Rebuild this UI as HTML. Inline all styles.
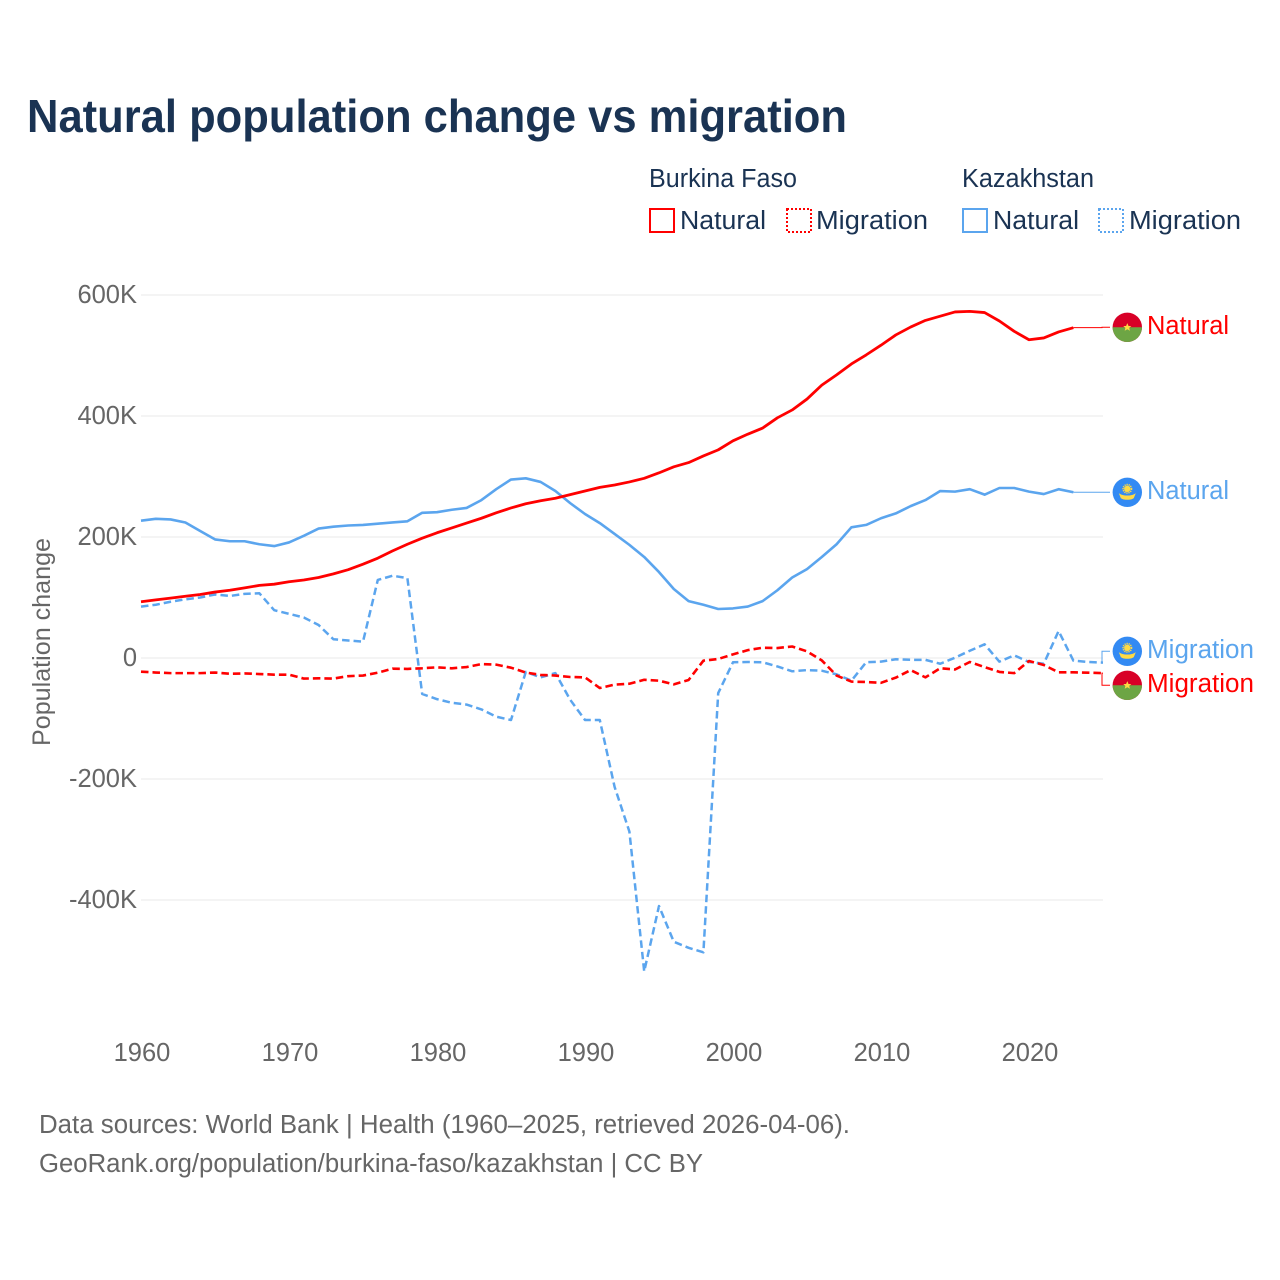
<!DOCTYPE html>
<html lang="en">
<head>
<meta charset="utf-8">
<title>Natural population change vs migration</title>
<style>
html,body{margin:0;padding:0;background:#fff;}
svg{display:block;font-family:"Liberation Sans",sans-serif;}
</style>
</head>
<body>
<svg id="chart" width="1280" height="1280" viewBox="0 0 1280 1280" xmlns="http://www.w3.org/2000/svg">
  <rect width="1280" height="1280" fill="#ffffff"/>
  <text x="27" y="132" font-size="46" font-weight="700" fill="#1a3353" textLength="820" lengthAdjust="spacingAndGlyphs">Natural population change vs migration</text>

  <g font-size="25.5" fill="#1a3353">
    <text x="649" y="187" textLength="148" lengthAdjust="spacingAndGlyphs">Burkina Faso</text>
    <text x="962" y="187" textLength="132" lengthAdjust="spacingAndGlyphs">Kazakhstan</text>
    <rect x="650" y="209" width="24" height="23" fill="none" stroke="#ff0000" stroke-width="2"/>
    <text x="680" y="229" textLength="86" lengthAdjust="spacingAndGlyphs">Natural</text>
    <rect x="787" y="209" width="24" height="23" fill="none" stroke="#ff0000" stroke-width="2" stroke-dasharray="2 2"/>
    <text x="816" y="229" textLength="112" lengthAdjust="spacingAndGlyphs">Migration</text>
    <rect x="963" y="209" width="24" height="23" fill="none" stroke="#5ba5ee" stroke-width="2"/>
    <text x="993" y="229" textLength="86" lengthAdjust="spacingAndGlyphs">Natural</text>
    <rect x="1099" y="209" width="24" height="23" fill="none" stroke="#5ba5ee" stroke-width="2" stroke-dasharray="2 2"/>
    <text x="1129" y="229" textLength="112" lengthAdjust="spacingAndGlyphs">Migration</text>
  </g>

  <g id="grid"></g>
  <g id="yticks" font-size="25.5" fill="#666666" text-anchor="end"></g>
  <g id="xticks" font-size="25.5" fill="#666666" text-anchor="middle"></g>
  <text transform="translate(50,642) rotate(-90)" font-size="25" fill="#666666" text-anchor="middle" textLength="208" lengthAdjust="spacingAndGlyphs">Population change</text>
  <g id="series"></g>

  <g transform="translate(1127.3,327.3)">
    <circle r="14.7" fill="#d80027"/>
    <path d="M-14.7 0A14.7 14.7 0 0 0 14.7 0Z" fill="#6da544"/>
    <polygon points="0,-4.2 1.2,-1.3 4,-1.3 1.9,0.6 2.6,3.4 0,1.9 -2.6,3.4 -1.9,0.6 -4,-1.3 -1.2,-1.3" fill="#ffda44"/>
  </g>
  <g transform="translate(1127.3,492.3)">
    <circle r="14.7" fill="#338af3"/>
    <circle cy="-3.5" r="4.2" fill="none" stroke="#ffda44" stroke-width="1.6" stroke-dasharray="1.2 0.9"/>
    <circle cy="-3.5" r="3.2" fill="#ffda44"/>
    <path d="M-8.5 0.8C-6 3-2 3.2 0 3.2C2 3.2 6 3 8.5 0.8L6.5 5.8C4.5 7.4 2 7.4 0 7.4C-2 7.4-4.5 7.4-6.5 5.8Z" fill="#ffda44"/>
  </g>
  <g transform="translate(1127.3,651.3)">
    <circle r="14.7" fill="#338af3"/>
    <circle cy="-3.5" r="4.2" fill="none" stroke="#ffda44" stroke-width="1.6" stroke-dasharray="1.2 0.9"/>
    <circle cy="-3.5" r="3.2" fill="#ffda44"/>
    <path d="M-8.5 0.8C-6 3-2 3.2 0 3.2C2 3.2 6 3 8.5 0.8L6.5 5.8C4.5 7.4 2 7.4 0 7.4C-2 7.4-4.5 7.4-6.5 5.8Z" fill="#ffda44"/>
  </g>
  <g transform="translate(1127.3,685.3)">
    <circle r="14.7" fill="#d80027"/>
    <path d="M-14.7 0A14.7 14.7 0 0 0 14.7 0Z" fill="#6da544"/>
    <polygon points="0,-4.2 1.2,-1.3 4,-1.3 1.9,0.6 2.6,3.4 0,1.9 -2.6,3.4 -1.9,0.6 -4,-1.3 -1.2,-1.3" fill="#ffda44"/>
  </g>

  <g font-size="25.5">
    <text x="1147" y="334" fill="#ff0000" textLength="82" lengthAdjust="spacingAndGlyphs">Natural</text>
    <text x="1147" y="499" fill="#5ba5ee" textLength="82" lengthAdjust="spacingAndGlyphs">Natural</text>
    <text x="1147" y="658" fill="#5ba5ee" textLength="107" lengthAdjust="spacingAndGlyphs">Migration</text>
    <text x="1147" y="692" fill="#ff0000" textLength="107" lengthAdjust="spacingAndGlyphs">Migration</text>
  </g>

  <g font-size="25.5" fill="#666666">
    <text x="39" y="1133" textLength="811" lengthAdjust="spacingAndGlyphs">Data sources: World Bank | Health (1960–2025, retrieved 2026-04-06).</text>
    <text x="39" y="1172" textLength="664" lengthAdjust="spacingAndGlyphs">GeoRank.org/population/burkina-faso/kazakhstan | CC BY</text>
  </g>
</svg>
<script>
var years = [1960,1961,1962,1963,1964,1965,1966,1967,1968,1969,1970,1971,1972,1973,1974,1975,1976,1977,1978,1979,1980,1981,1982,1983,1984,1985,1986,1987,1988,1989,1990,1991,1992,1993,1994,1995,1996,1997,1998,1999,2000,2001,2002,2003,2004,2005,2006,2007,2008,2009,2010,2011,2012,2013,2014,2015,2016,2017,2018,2019,2020,2021,2022,2023,2024,2025];
var burkinaNatural = [93,96,99,102,105,109,112,116,120,122,126,129,133,139,146,155,165,177,188,198,207,215,223,231,240,248,255,260,264,270,276,282,286,291,297,306,316,323,334,344,359,370,380,397,410,428,451,468,486,501,517,534,547,558,565,572,573,571,557,540,526,529,539,546];
var kazakhstanNatural = [227,230,229,224,210,196,193,193,188,185,191,202,214,217,219,220,222,224,226,240,241,245,248,261,279,295,297,291,276,256,238,223,205,187,167,142,114,94,88,81,82,85,94,112,133,147,167,188,216,220,231,239,251,261,276,275,279,270,281,281,275,271,279,274];
var burkinaMigration = [-22.6,-24,-25,-25,-25,-24,-26,-25.5,-26.5,-27.5,-27.5,-34,-33.6,-34,-30,-29,-24.3,-17.6,-18,-17,-15.4,-17,-15,-10,-11,-16,-24,-28,-29,-31.4,-32,-49.6,-44,-42.5,-36,-37.5,-43.5,-36.4,-4.4,-1.6,6,13,17,16.5,19,11,-4,-29,-39,-39.7,-41,-32.5,-20,-32,-17,-19,-6.6,-15,-23,-25,-5,-11.6,-23.7,-23.7,-24.3,-25];
var kazakhstanMigration = [85,88,93,97,100,105,102.5,106,107,79,73,67,54.5,31,29,27,129,136,132,-59.5,-68,-74,-77,-85,-97,-102.5,-23,-32,-25,-69,-102.5,-102.5,-213,-287,-518,-410,-469,-479,-486.5,-58,-7,-6.6,-7,-14,-22,-20,-21,-27,-37.5,-7,-6,-2,-3,-3,-9.5,0.5,12,22.6,-6,4.4,-6.6,-9.4,44.6,-4.4,-6.6,-7.7];
var yTickValues = [600,400,200,0,-200,-400];
var yTickLabels = ['600K','400K','200K','0','-200K','-400K'];
var xTickValues = [1960,1970,1980,1990,2000,2010,2020];

var SVGNS = 'http://www.w3.org/2000/svg';
function xScale(year) { return 141 + (year - 1960) * (1103 - 141) / 65; }
function yScale(value) { return 658 - value * 0.605; }
function make(tag, attrs, parent) {
  var el = document.createElementNS(SVGNS, tag);
  for (var k in attrs) { el.setAttribute(k, attrs[k]); }
  parent.appendChild(el);
  return el;
}
var gridG = document.getElementById('grid');
var yG = document.getElementById('yticks');
var xG = document.getElementById('xticks');
var seriesG = document.getElementById('series');

yTickValues.forEach(function (v, i) {
  var line = make('line', { x1: 141, x2: 1103, y1: yScale(v), y2: yScale(v), stroke: '#e9e9e9', 'stroke-width': 1 }, gridG);
  
  
  var t = make('text', { x: 137, y: yScale(v) + 8 }, yG);
  
  
  t.textContent = yTickLabels[i];
});
xTickValues.forEach(function (v) {
  var t = make('text', { x: xScale(v) + 1, y: 1061 }, xG);
  
  
  t.textContent = String(v);
});

function drawSeries(values, color, dash, width, endY, stepX) {
  var d = values.map(function (v, i) {
    return (i ? 'L' : 'M') + xScale(years[i]).toFixed(2) + ' ' + yScale(v).toFixed(2);
  }).join('');
  var attrs = { d: d, fill: 'none', stroke: color, 'stroke-width': width, 'stroke-linejoin': 'round' };
  if (dash) { attrs['stroke-dasharray'] = dash; }
  var path = make('path', attrs, seriesG);
  
  
  var n = values.length - 1;
  var lx = xScale(years[n]);
  var ly = yScale(values[n]);
  var c = make('path', { d: 'M' + lx.toFixed(2) + ' ' + ly.toFixed(2) + 'H' + stepX + 'V' + endY + 'H1110', fill: 'none', stroke: color, 'stroke-width': 1 }, seriesG);
  
  
}
drawSeries(kazakhstanNatural, '#5ba5ee', null, 2.6, 492.3, 1102);
drawSeries(kazakhstanMigration, '#5ba5ee', '7.5 4', 2.5, 651.3, 1102);
drawSeries(burkinaNatural, '#ff0000', null, 2.8, 327.3, 1102);
drawSeries(burkinaMigration, '#ff0000', '7.5 4', 2.6, 685.3, 1102);
</script>
</body>
</html>
